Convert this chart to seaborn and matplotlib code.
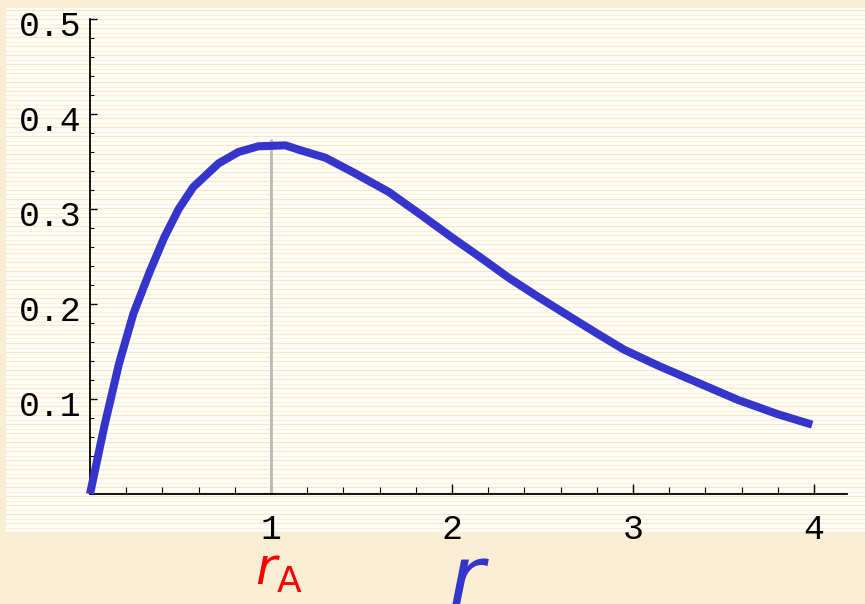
import numpy as np
import pandas as pd
import matplotlib
matplotlib.use("Agg")
import matplotlib.pyplot as plt
from matplotlib.patches import Rectangle
from matplotlib.ticker import MultipleLocator, FixedLocator
import matplotlib.transforms as mtransforms
import seaborn as sns

# Radial probability curve sampled along r
r_values = [0.0, 0.08, 0.16, 0.24, 0.33, 0.41, 0.49, 0.57, 0.71, 0.82, 0.93,
            1.08, 1.16, 1.30, 1.46, 1.65, 1.82, 2.00, 2.15, 2.31, 2.48, 2.64,
            2.81, 2.95, 3.14, 3.36, 3.58, 3.80, 3.99]
p_values = [0.0, 0.072, 0.137, 0.190, 0.234, 0.270, 0.300, 0.323, 0.348, 0.360,
            0.366, 0.367, 0.362, 0.354, 0.338, 0.318, 0.295, 0.270, 0.250, 0.228,
            0.207, 0.188, 0.168, 0.152, 0.135, 0.117, 0.099, 0.084, 0.073]
x_ticks = [1, 2, 3, 4]
x_tick_labels = ["1", "2", "3", "4"]
y_ticks = [0.1, 0.2, 0.3, 0.4, 0.5]
y_tick_labels = ["0.1", "0.2", "0.3", "0.4", "0.5"]
r_peak = 1.0
r_peak_height = 0.374

sns.set_style("white")
plt.rcParams["font.family"] = ["Liberation Mono", "DejaVu Sans Mono"]
plt.rcParams["mathtext.fontset"] = "dejavusans"

W, H = 865, 604
fig = plt.figure(figsize=(W / 100, H / 100), dpi=100)
fig.patch.set_facecolor("#f9edd3")

# Ruled white paper panel
px0, py0, px1, py1 = 6, 8, 865, 532
fig.patches.append(Rectangle((px0 / W, 1 - py1 / H), (px1 - px0) / W, (py1 - py0) / H,
                             transform=fig.transFigure, facecolor="#fffdf8",
                             edgecolor="none", zorder=-2))
yy = py0 + 2.0
k = 0
while yy < py1:
    fig.add_artist(plt.Line2D([px0 / W, px1 / W], [1 - yy / H, 1 - yy / H],
                              transform=fig.transFigure, color="#f5e3b8",
                              lw=0.8, alpha=0.8 if k % 2 == 0 else 0.45, zorder=-1))
    yy += 4.5
    k += 1

# Plot axes
ax_left, ax_right, ax_bottom, ax_top = 90, 847, 494, 19
ax = fig.add_axes([ax_left / W, 1 - ax_bottom / H, (ax_right - ax_left) / W,
                   (ax_bottom - ax_top) / H])
ax.set_zorder(5)
ax.set_facecolor("none")
ax.set_xlim(0, (ax_right - ax_left) / 181.0)
ax.set_ylim(0, 0.5)

ax.axvline(r_peak, ymin=0, ymax=r_peak_height / 0.5, color="#b8b8b8", lw=2.0, zorder=1)

df = pd.DataFrame({"r": r_values, "p": p_values})
sns.lineplot(data=df, x="r", y="p", ax=ax, sort=False, estimator=None,
             color="#3535cc", lw=5.8, zorder=3, clip_on=False)
for ln in ax.get_lines():
    ln.set_solid_capstyle("butt")
    ln.set_solid_joinstyle("round")

ax.set_xlabel("")
ax.set_ylabel("")
for side in ["top", "right"]:
    ax.spines[side].set_visible(False)
for side in ["left", "bottom"]:
    ax.spines[side].set_color("black")
    ax.spines[side].set_linewidth(1.3)

ax.xaxis.set_major_locator(FixedLocator(x_ticks))
ax.set_xticklabels(x_tick_labels)
ax.yaxis.set_major_locator(FixedLocator(y_ticks))
ax.set_yticklabels(y_tick_labels)
ax.minorticks_on()
ax.xaxis.set_minor_locator(MultipleLocator(0.2))
ax.yaxis.set_minor_locator(MultipleLocator(0.02))

ax.tick_params(axis="both", which="both", bottom=True, left=True, top=False, right=False)
ax.tick_params(axis="x", which="major", direction="in", length=7, width=1.0,
               color="black", labelsize=25, pad=14, labelcolor="black")
ax.tick_params(axis="x", which="minor", direction="in", length=5, width=0.8, color="black")
ax.tick_params(axis="y", which="major", direction="in", length=5, width=1.0,
               color="black", labelsize=25, pad=6, labelcolor="black")
ax.tick_params(axis="y", which="minor", direction="in", length=3, width=0.8, color="black")

shift = mtransforms.ScaledTranslation(0, -4 / 100, fig.dpi_scale_trans)
for lbl in ax.get_yticklabels():
    lbl.set_transform(lbl.get_transform() + shift)

# Axis annotations below the panel
fig.text(255 / W, (H - 585) / H, r"$r_{\mathrm{A}}$", color="#ff0000",
         fontsize=37, ha="left", va="baseline", zorder=6)
fig.text(467 / W, (H - 606) / H, "r", color="#3535cc", fontsize=62,
         fontstyle="italic", family="DejaVu Sans", ha="center", va="baseline", zorder=6)

fig.savefig("out.png", dpi=100, facecolor=fig.get_facecolor())
